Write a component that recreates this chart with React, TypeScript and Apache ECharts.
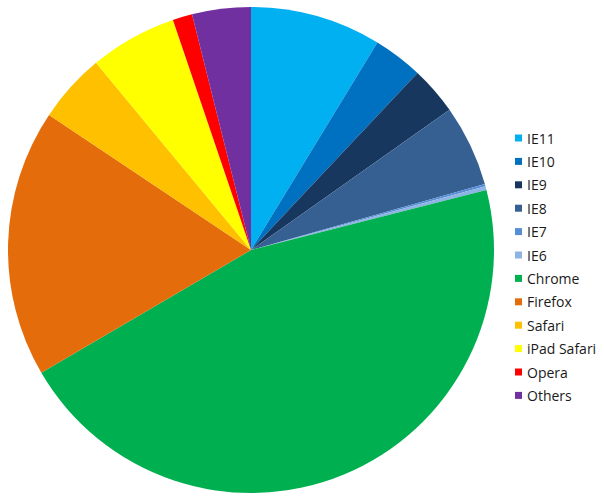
import React, { useEffect, useRef } from "react";
import * as echarts from "echarts";

const categories = ["IE11", "IE10", "IE9", "IE8", "IE7", "IE6", "Chrome", "Firefox", "Safari", "iPad Safari", "Opera", "Others"];
const values = [8.7, 3.3, 3.2, 5.4, 0.15, 0.25, 45.5, 17.8, 4.6, 5.8, 1.3, 3.9];
const colors = ["#00B0F0", "#0070C0", "#17375E", "#376092", "#558ED5", "#8EB4E3", "#00B050", "#E46C0A", "#FFC000", "#FFFF00", "#FF0000", "#7030A0"];

export default function App() {
  const ref = useRef<HTMLDivElement>(null);
  useEffect(() => {
    if (!ref.current) return;
    const chart = echarts.init(ref.current, undefined, { renderer: "svg" });
    chart.setOption({
      animation: false,
      color: colors,
      legend: {
        orient: "vertical",
        left: 515,
        top: 130,
        padding: 0,
        itemWidth: 7,
        itemHeight: 7,
        itemGap: 7.4,
        icon: "rect",
        data: categories,
        textStyle: {
          fontFamily: "'Open Sans', 'Noto Sans', sans-serif",
          fontSize: 14,
          lineHeight: 16,
          color: "#1a1a1a",
          padding: [0, 0, 0, 0],
        },
        selectedMode: false,
      },
      series: [
        {
          type: "pie",
          center: [251, 250],
          radius: [0, 243],
          startAngle: 90,
          clockwise: true,
          label: { show: false },
          labelLine: { show: false },
          emphasis: { disabled: true },
          itemStyle: { borderWidth: 0 },
          data: categories.map((c, i) => ({ name: c, value: values[i] })),
        },
      ],
    });
    return () => chart.dispose();
  }, []);
  return (
    <div
      ref={ref}
      style={{ position: "fixed", left: 0, top: 0, width: 604, height: 501, background: "#fff" }}
    />
  );
}
